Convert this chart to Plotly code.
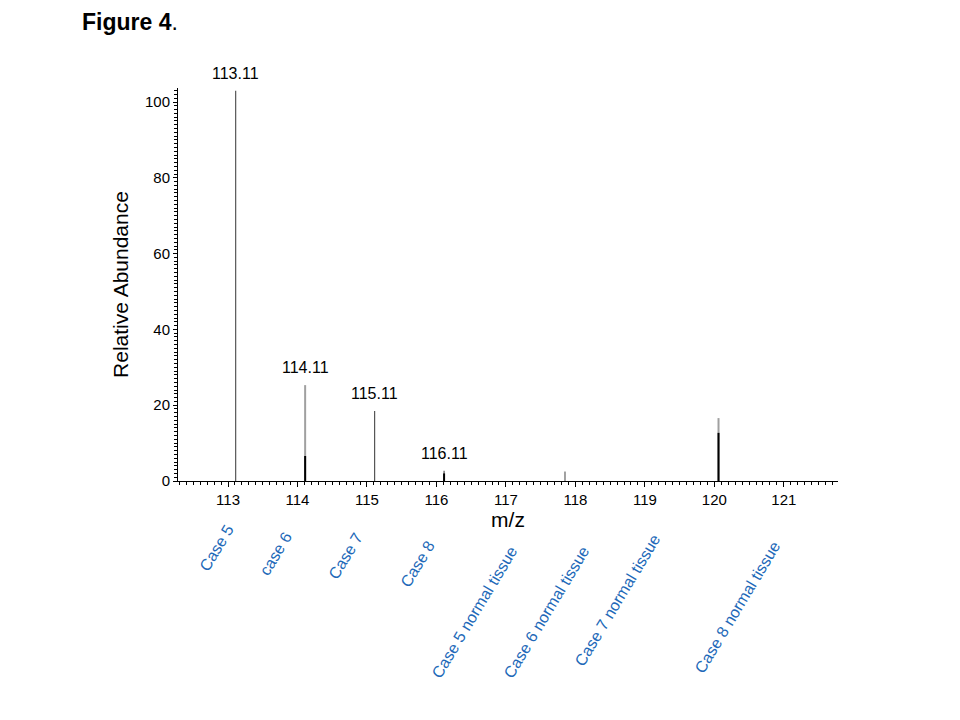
import plotly.graph_objects as go

# peak list (m/z, relative abundance)
thin_mz = [113.11, 115.11, 116.11]
thin_ab = [103.0, 18.5, 2.7]

gray_mz = [114.11, 117.85, 120.06]
gray_ab = [25.3, 2.5, 16.6]

black_mz = [114.11, 116.11, 120.06]
black_ab = [6.6, 2.0, 12.7]

labelled_mz = [113.11, 114.11, 115.11, 116.11]
labelled_ab = [103.0, 25.3, 18.5, 2.7]

x_ticks = [113, 114, 115, 116, 117, 118, 119, 120, 121]
y_ticks = [0, 20, 40, 60, 80, 100]

case_labels = ["Case 5", "case 6", "Case 7", "Case 8",
               "Case 5 normal tissue", "Case 6 normal tissue",
               "Case 7 normal tissue", "Case 8 normal tissue"]
# label centres in page pixels (layout only)
case_px = [(216, 548), (275, 554), (345, 556), (417, 564),
           (474, 612), (546, 612), (617, 600), (737, 607)]

OFF = 8  # page body margin
L, R, T, B = 178, 838, 88, 481


def stems(mz, ab):
    xs, ys = [], []
    for m, a in zip(mz, ab):
        xs += [m, m, None]
        ys += [0, a, None]
    return xs, ys


fig = go.Figure()
for mz, ab, col, w in [(gray_mz, gray_ab, "#a0a0a0", 2),
                       (thin_mz, thin_ab, "#555555", 1.2),
                       (black_mz, black_ab, "#000000", 2)]:
    xs, ys = stems(mz, ab)
    fig.add_trace(go.Scatter(x=xs, y=ys, mode="lines",
                             line=dict(color=col, width=w),
                             hoverinfo="skip", showlegend=False))

for m, a in zip(labelled_mz, labelled_ab):
    fig.add_annotation(x=m, y=a, text=f"{m:.2f}", showarrow=False,
                       yanchor="bottom", yshift=7,
                       font=dict(size=16, color="#000000"))

for txt, (px, py) in zip(case_labels, case_px):
    fig.add_annotation(xref="paper", yref="paper",
                       x=(px - L) / (R - L), y=(B - py) / (B - T),
                       text=txt, showarrow=False, textangle=-59,
                       xanchor="center", yanchor="middle",
                       font=dict(size=16, color="#2168b8"))

fig.update_layout(
    width=960, height=720,
    margin=dict(l=L - OFF, r=960 - R + OFF, t=T - OFF, b=720 - B + OFF,
                autoexpand=False),
    paper_bgcolor="white", plot_bgcolor="white",
    font=dict(family="Liberation Sans, Arial, sans-serif", color="#000000"),
    title=dict(text="<b>Figure 4</b>.", xref="container", yref="container",
               x=(82 - OFF) / 960, xanchor="left", y=1 - (22 - OFF) / 720,
               yanchor="middle", font=dict(size=23, color="#000000")),
)
fig.update_xaxes(range=[112.28, 121.78], tickvals=x_ticks,
                 showline=True, linecolor="#000000", linewidth=1,
                 ticks="outside", ticklen=5, tickcolor="#000000",
                 minor=dict(dtick=0.1, tick0=0, ticks="outside", ticklen=3,
                            tickcolor="#000000"),
                 showgrid=False, zeroline=False,
                 tickfont=dict(size=15),
                 title=dict(text="m/z", font=dict(size=21), standoff=4))
fig.update_yaxes(range=[0, 103.7], tickvals=y_ticks,
                 showline=True, linecolor="#000000", linewidth=1,
                 ticks="outside", ticklen=4, tickcolor="#000000",
                 minor=dict(dtick=1, tick0=0, ticks="outside", ticklen=3,
                            tickcolor="#000000"),
                 showgrid=False, zeroline=False,
                 tickfont=dict(size=15),
                 title=dict(text="Relative Abundance", font=dict(size=21), standoff=10))

fig.write_html("out.html")
